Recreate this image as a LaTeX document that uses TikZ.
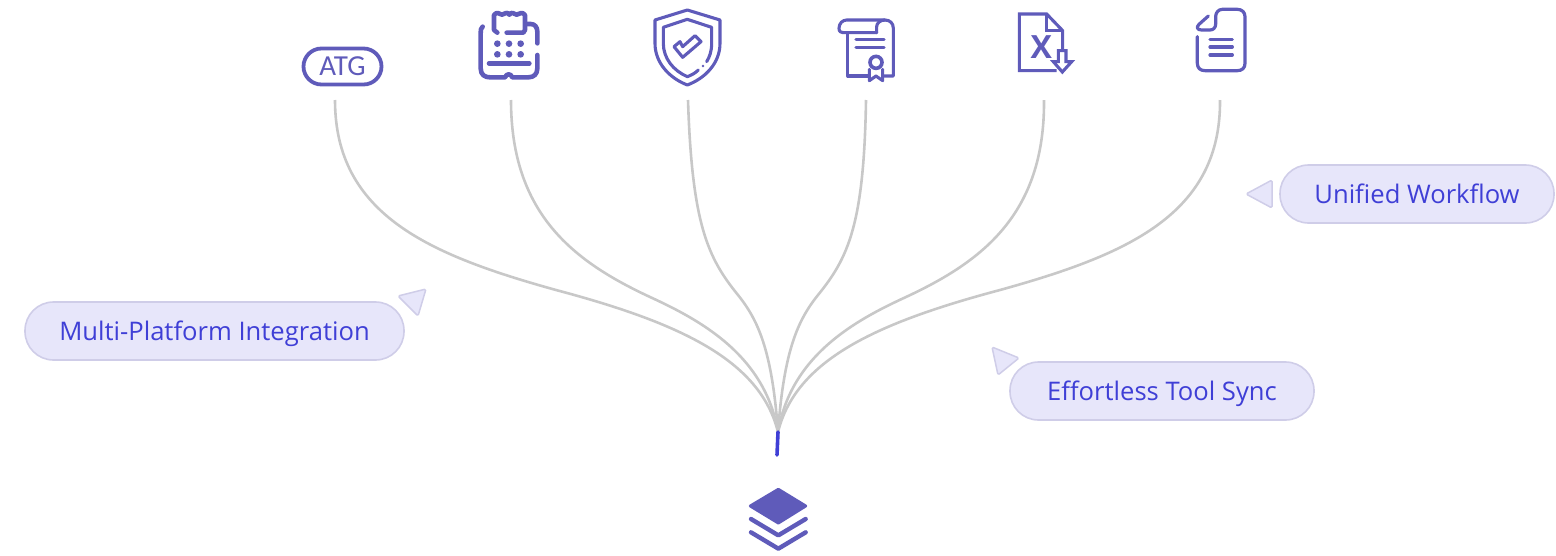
\documentclass[tikz,border=0pt]{standalone}
\usepackage{fontspec}
\setmainfont{Open Sans}
\newfontfamily\atgfont{Carlito}
\usetikzlibrary{calc}
\definecolor{icon}{HTML}{5F5BBA}
\definecolor{pillfill}{HTML}{E7E6FA}
\definecolor{pillline}{HTML}{CFCDE8}
\definecolor{pilltext}{HTML}{3F3FD6}
\definecolor{wire}{HTML}{C8C8C8}
\tikzset{
  pill/.style={draw=pillline,fill=pillfill,line width=1.6pt,rounded corners=28.5pt,text=pilltext,font=\fontsize{25.6}{28}\selectfont,inner sep=0pt,minimum height=58pt,text height=20pt,text depth=2pt},
  pointer/.style={draw=pillline,fill=pillfill,line width=1.5pt,rounded corners=1.5pt,line join=round},
  wireline/.style={draw=wire,line width=2.6pt},
  ic/.style={draw=icon,line width=3.1pt,line cap=round,line join=round},
  icb/.style={draw=icon,line width=4.6pt,line cap=round,line join=round},
}
\begin{document}
\begin{tikzpicture}[x=1pt,y=-1pt]
\useasboundingbox (0,0) rectangle (1556,555);
\coordinate (t1) at (335,100);
\coordinate (t2) at (511,100);
\coordinate (t3) at (688,100);
\coordinate (t4) at (866,100);
\coordinate (t5) at (1044,100);
\coordinate (t6) at (1220,100);
\coordinate (hub) at (778,432);
\coordinate (end) at (777,455);
% connectors
\draw[wireline] (t1) .. controls (335,215) and (430,255) .. (556,290) .. controls (680,323) and (760,360) .. (hub);
\draw[wireline] (t2) .. controls (511,215) and (575,262) .. (650,297) .. controls (700,320) and (765,355) .. (hub);
\draw[wireline] (t3) .. controls (692,225) and (708,258) .. (738,295) .. controls (758,320) and (772,350) .. (hub);
\draw[wireline] (t4) .. controls (864,225) and (848,258) .. (818,295) .. controls (798,320) and (784,350) .. (hub);
\draw[wireline] (t5) .. controls (1045,215) and (981,262) .. (906,297) .. controls (856,320) and (791,355) .. (hub);
\draw[wireline] (t6) .. controls (1221,215) and (1126,255) .. (1000,290) .. controls (876,323) and (796,360) .. (hub);
\draw[draw=pilltext,line width=3.6pt,line cap=round] (hub) -- (end);
% pills
\node[pill,minimum width=379pt] (p1) at (214.5,331) {Multi-Platform Integration};
\node[pill,minimum width=304pt] (p2) at (1162,391) {Effortless Tool Sync};
\node[pill,minimum width=274pt] (p3) at (1417,194) {Unified Workflow};
\draw[pointer] (398,296) -- (426,289) -- (418,316) -- cycle;
\draw[pointer] (992,347) -- (1019,358) -- (998,375) -- cycle;
\draw[pointer] (1246,194) -- (1272,180) -- (1272,208) -- cycle;
% ATG
\node[draw=icon,line width=3.8pt,rounded corners=18pt,minimum width=78pt,minimum height=36pt,inner sep=0pt,text=icon,font=\atgfont\fontsize{29}{29}\selectfont] (atg) at (342.5,66.5) {ATG};
% receipt
\begin{scope}[shift={(290,0)},x=1/3*1pt,y=-1/3*1pt]
\draw[icb] (622,98) -- (612,90) -- (612,45) .. controls (622,32) and (628,44) .. (636,44) .. controls (644,44) and (650,32) .. (658,44) .. controls (666,32) and (672,44) .. (680,44) .. controls (688,44) and (695,32) .. (705,45) -- (705,90) -- (700,98) -- (650,98);
\draw[icb] (578,80) .. controls (572,85) and (572,90) .. (572,100) -- (572,205) .. controls (572,225) and (585,232) .. (600,232) -- (645,232) .. controls (650,220) and (662,220) .. (667,232) -- (715,232) .. controls (732,232) and (742,222) .. (742,205) -- (742,165);
\draw[icb] (708,72) -- (722,72) .. controls (735,72) and (742,82) .. (742,95) -- (742,130);
\draw[icb] (597,190) -- (718,190);
\foreach \xx in {622,657,692}\foreach \yy in {131,163}{\fill[icon] (\xx,\yy) circle (10);}
% shield
\draw[ic] (1192,30) -- (1290,60) -- (1290,130) .. controls (1290,190) and (1245,235) .. (1192,255) .. controls (1140,235) and (1095,190) .. (1095,130) -- (1095,60) -- cycle;
\draw[ic] (1225,210) .. controls (1215,220) and (1205,225) .. (1192,230) .. controls (1150,212) and (1120,175) .. (1120,130) -- (1120,82) -- (1192,58) -- (1265,82) -- (1265,130) .. controls (1265,155) and (1258,172) .. (1250,185);
\fill[icon] (1239,198) circle (4);
\draw[ic] (1152,140) -- (1178,172) -- (1233,125) -- (1215,107) -- (1178,140) -- (1170,125) -- cycle;
\end{scope}
\begin{scope}[shift={(820,0)},x=1/3*1pt,y=-1/3*1pt]
% certificate
\draw[ic] (170,98) -- (75,98) .. controls (62,98) and (57,95) .. (57,85) .. controls (57,70) and (68,60) .. (80,60) -- (195,60) .. controls (210,60) and (220,70) .. (220,85) -- (220,228) -- (192,228);
\draw[ic] (170,98) -- (170,80) .. controls (170,70) and (180,60) .. (195,60);
\draw[ic] (83,100) -- (83,228) -- (145,228);
\draw[ic] (108,118) -- (192,118);
\draw[ic] (108,143) -- (192,143);
\draw[icon,line width=3.6pt] (168,187) circle (18);
\draw[ic] (148,208) -- (148,242) -- (168,228) -- (188,242) -- (188,208);
% excel
\draw[ic,line cap=butt,line join=miter] (710,212) -- (598,212) -- (598,42) -- (680,42) -- (728,92) -- (728,150);
\draw[ic,line cap=butt,line join=miter] (680,42) -- (680,92) -- (728,92);
\node[text=icon,inner sep=0pt,font=\bfseries\fontsize{32}{32}\selectfont] (xl) at (664,140) {X};
\draw[ic,line join=miter] (715,152) -- (738,152) -- (738,185) -- (755,185) -- (727,216) -- (700,185) -- (715,185) -- cycle;
% document
\draw[ic,line width=3.2pt] (1165,48) -- (1137,73) .. controls (1128,82) and (1132,90) .. (1145,90) -- (1170,90) .. controls (1180,90) and (1187,83) .. (1187,72) -- (1187,50) .. controls (1187,38) and (1195,28) .. (1207,28) -- (1252,28) .. controls (1266,28) and (1275,37) .. (1275,50) -- (1275,190) .. controls (1275,204) and (1266,212) .. (1252,212) -- (1155,212) .. controls (1141,212) and (1132,204) .. (1132,190) -- (1132,110);
\draw[ic,line width=3.2pt] (1170,118) -- (1237,118);
\draw[ic,line width=3.2pt] (1170,141) -- (1237,141);
\draw[ic,line width=3.2pt] (1170,165) -- (1237,165);
\end{scope}
% stack
\begin{scope}[shift={(700,400)},x=1/3*1pt,y=-1/3*1pt]
\fill[icon,draw=icon,line width=3pt,line join=round] (235,268) -- (317,318) -- (235,369) -- (151,318) -- cycle;
\draw[icb,line width=4.4pt] (153,357) -- (235,406) -- (317,357);
\draw[icb,line width=4.4pt] (153,397) -- (235,446) -- (317,397);
\end{scope}
\end{tikzpicture}
\end{document}
